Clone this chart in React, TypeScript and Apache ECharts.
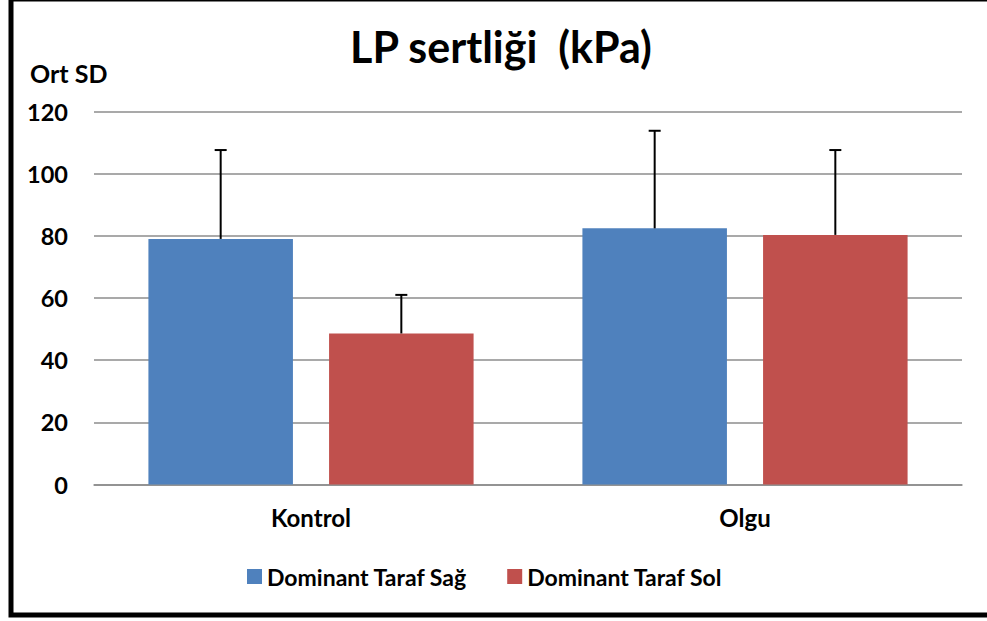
import React, { useEffect, useRef } from "react";
import * as echarts from "echarts";

const categories = ["Kontrol", "Olgu"];
const seriesNames = ["Dominant Taraf Sağ", "Dominant Taraf Sol"];
const sagMeans = [79.0, 82.4];
const sagSD = [28.6, 31.4];
const solMeans = [48.6, 80.3];
const solSD = [12.4, 27.3];
const colors = ["#4F81BD", "#C0504D"];
const titleText = "LP sertliği  (kPa)";
const yAxisTitle = "Ort SD";

const BAR_FRAC = 0.333;
const GAP_FRAC = 0.25;
const FONT = "Lato, 'Open Sans', sans-serif";

function errorSeries(name: string, means: number[], sds: number[], sign: number) {
  return {
    type: "custom",
    name: name + " SD",
    z: 5,
    encode: { x: 0, y: 1 },
    data: means.map((m, i) => [i, m, sds[i]]),
    renderItem: (params: any, api: any) => {
      const ci = api.value(0);
      const mean = api.value(1);
      const sd = api.value(2);
      const band = api.size([1, 0])[0];
      const offset = (band * BAR_FRAC * (1 + GAP_FRAC)) / 2 * sign;
      const base = api.coord([ci, mean]);
      const top = api.coord([ci, mean + sd]);
      const x = base[0] + offset;
      const style = { stroke: "#000", lineWidth: 2 };
      return {
        type: "group",
        children: [
          { type: "line", shape: { x1: x, y1: base[1], x2: x, y2: top[1] }, style },
          { type: "line", shape: { x1: x - 6, y1: top[1], x2: x + 6, y2: top[1] }, style },
        ],
      };
    },
    tooltip: { show: false },
  };
}

export default function App() {
  const ref = useRef<HTMLDivElement>(null);
  useEffect(() => {
    document.body.style.margin = "0";
    const chart = echarts.init(ref.current!, undefined, { renderer: "svg" });
    chart.setOption({
      animation: false,
      backgroundColor: "#ffffff",
      title: {
        text: titleText,
        left: 496,
        top: 20,
        textAlign: "center",
        textStyle: { fontFamily: FONT, fontWeight: "bold", fontSize: 43, color: "#000" },
      },
      legend: {
        data: seriesNames,
        top: 560,
        left: 242,
        itemWidth: 15,
        itemHeight: 15,
        itemGap: 40,
        icon: "rect",
        textStyle: { fontFamily: FONT, fontWeight: "bold", fontSize: 23, color: "#000" },
      },
      grid: { left: 94, right: 25, top: 111.5, bottom: 136.5, containLabel: false },
      xAxis: {
        type: "category",
        data: categories,
        axisLine: { lineStyle: { color: "#8c8c8c", width: 1.5 } },
        axisTick: { show: false },
        axisLabel: { fontFamily: FONT, fontWeight: "bold", fontSize: 24, color: "#000", margin: 21 },
      },
      yAxis: {
        type: "value",
        min: 0,
        max: 120,
        interval: 20,
        axisLine: { show: false },
        axisTick: { show: false },
        splitLine: { lineStyle: { color: "#8c8c8c", width: 1.5 } },
        axisLabel: { fontFamily: FONT, fontWeight: "bold", fontSize: 23.5, color: "#000", margin: 26 },
      },
      series: [
        {
          type: "bar",
          name: seriesNames[0],
          data: sagMeans,
          barWidth: (BAR_FRAC * 100).toFixed(1) + "%",
          barGap: GAP_FRAC * 100 + "%",
          itemStyle: { color: colors[0] },
          z: 2,
        },
        {
          type: "bar",
          name: seriesNames[1],
          data: solMeans,
          barWidth: (BAR_FRAC * 100).toFixed(1) + "%",
          barGap: GAP_FRAC * 100 + "%",
          itemStyle: { color: colors[1] },
          z: 2,
        },
        errorSeries(seriesNames[0], sagMeans, sagSD, -1),
        errorSeries(seriesNames[1], solMeans, solSD, 1),
      ],
      graphic: [
        {
          type: "text",
          x: 30,
          y: 72.5,
          style: {
            text: yAxisTitle,
            fontFamily: FONT,
            fontWeight: "bold",
            fontSize: 25,
            fill: "#000",
            verticalAlign: "middle",
            align: "left",
          },
        },
        {
          type: "rect",
          shape: { x: 11, y: -1, width: 1000, height: 616 },
          style: { fill: "none", stroke: "#000", lineWidth: 5 },
          silent: true,
        },
      ],
    });
    return () => chart.dispose();
  }, []);
  return <div ref={ref} style={{ position: "fixed", left: 0, top: 0, width: 987, height: 621 }} />;
}
